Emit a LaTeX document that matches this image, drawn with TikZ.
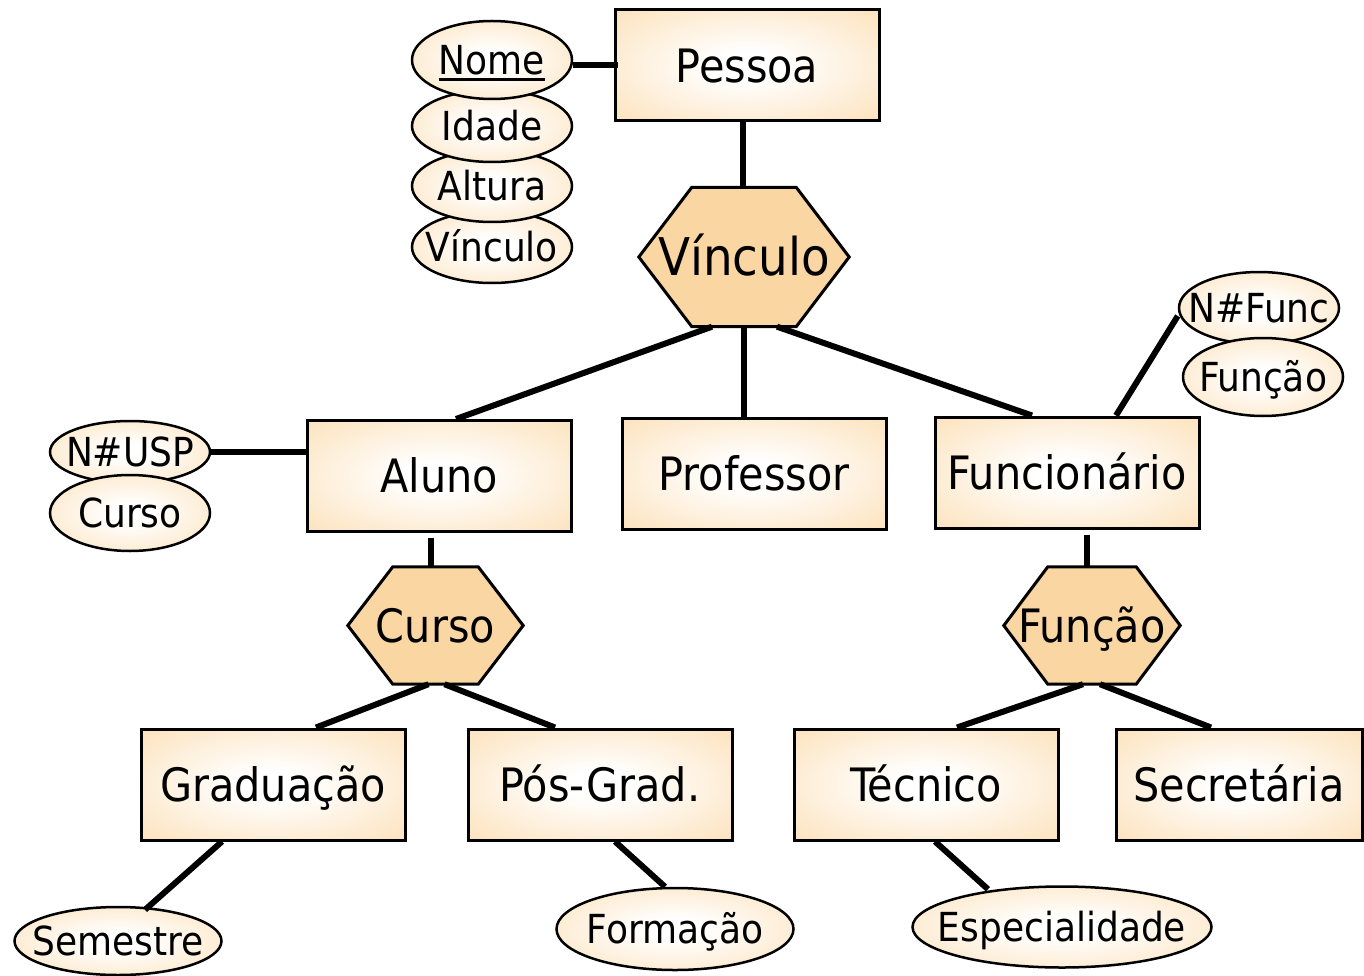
\documentclass[tikz,border=0pt]{standalone}
\usepackage{fontspec}
\usetikzlibrary{shapes.geometric}
\newfontfamily\erfont{DejaVu Sans Condensed}
\definecolor{boxc}{RGB}{252,226,188}
\definecolor{hexc}{RGB}{250,214,162}
\pgfdeclareradialshading{erglow}{\pgfpoint{0bp}{0bp}}{color(0bp)=(white); color(6bp)=(white); color(36bp)=(boxc); color(50bp)=(boxc)}
\pgfdeclarelayer{background}
\pgfsetlayers{background,main}
\newcommand\ulname[1]{\leavevmode\vtop{\hbox{#1}\kern3pt\hrule height 3pt}}
\newcommand\zw[1]{\makebox[0pt]{#1}}
\tikzset{
  ent/.style={rectangle, draw, line width=3pt, shading=erglow, minimum width=264pt, minimum height=111pt, inner sep=0pt, text height=33.5pt, text depth=0pt, font=\erfont\fontsize{46}{50}\selectfont},
  attr/.style={ellipse, draw, line width=2.5pt, shading=erglow, inner sep=0pt, text height=29pt, text depth=0pt, font=\erfont\fontsize{40}{44}\selectfont},
  hexnode/.style={rectangle, inner sep=0pt, text height=33.5pt, text depth=0pt, font=\erfont\fontsize{46}{50}\selectfont},
  hexshape/.style={draw, line width=3pt, fill=hexc, line join=miter},
  conn/.style={line width=6pt}
}
\begin{document}
\begin{tikzpicture}[x=1pt,y=-1pt]
\useasboundingbox (0,0) rectangle (1364,976);
% entities
\node[ent] (pessoa) at (747,65.5) {Pessoa};
\node[ent] (aluno) at (439,476) {Aluno};
\node[ent] (prof) at (754,474) {Professor};
\node[ent] (func) at (1067,472.5) {Funcionário};
\node[ent] (grad) at (273,784.5) {Graduação};
\node[ent] (pos) at (600,784.5) {Pós-Grad.};
\node[ent] (tec) at (926,784.5) {Técnico};
\node[ent, minimum width=246pt] (sec) at (1239,784.5) {Secretária};
% attributes of Pessoa
\node[attr, minimum width=160pt, minimum height=72pt] (avinc) at (492,247) {\zw{Vínculo}};
\node[attr, minimum width=160pt, minimum height=72pt] (altura) at (492,186) {\zw{Altura}};
\node[attr, minimum width=160pt, minimum height=72pt] (idade) at (492,126) {\zw{Idade}};
\node[attr, minimum width=160pt, minimum height=78pt] (nome) at (492,60) {\zw{\ulname{Nome}}};
% attributes of Aluno
\node[attr, minimum width=160pt, minimum height=62pt] (nusp) at (130,452) {\zw{N\#USP}};
\node[attr, minimum width=160pt, minimum height=76pt] (acurso) at (130,513) {\zw{Curso}};
% attributes of Funcionario
\node[attr, minimum width=160pt, minimum height=72pt] (nfunc) at (1259,308) {\zw{N\#Func}};
\node[attr, minimum width=160pt, minimum height=78pt] (afunc) at (1263,377) {\zw{Função}};
% other attributes
\node[attr, minimum width=207pt, minimum height=68pt] (sem) at (118,941) {\zw{Semestre}};
\node[attr, minimum width=237pt, minimum height=82pt] (form) at (675,929) {\zw{Formação}};
\node[attr, minimum width=299pt, minimum height=81pt] (esp) at (1062,927) {\zw{Especialidade}};
% hexagons
\node[hexnode, minimum width=210pt, minimum height=139pt, text height=38pt, font=\erfont\fontsize{52}{56}\selectfont] (vinc) at (744,257) {Vínculo};
\node[hexnode, minimum width=175pt, minimum height=117pt] (cursoh) at (435.5,625.5) {Curso};
\node[hexnode, minimum width=176pt, minimum height=117pt] (funch) at (1092,625.5) {Função};
\begin{pgfonlayer}{background}
\draw[hexshape] (vinc.west) -- ([xshift=53pt]vinc.north west) -- ([xshift=-53pt]vinc.north east) -- (vinc.east) -- ([xshift=-53pt]vinc.south east) -- ([xshift=53pt]vinc.south west) -- cycle;
\draw[hexshape] (cursoh.west) -- ([xshift=45pt]cursoh.north west) -- ([xshift=-45pt]cursoh.north east) -- (cursoh.east) -- ([xshift=-45pt]cursoh.south east) -- ([xshift=45pt]cursoh.south west) -- cycle;
\draw[hexshape] (funch.west) -- ([xshift=44pt]funch.north west) -- ([xshift=-44pt]funch.north east) -- (funch.east) -- ([xshift=-44pt]funch.south east) -- ([xshift=44pt]funch.south west) -- cycle;
\end{pgfonlayer}
% connectors
\coordinate (nomeE) at ([yshift=-5pt]nome.east);
\coordinate (nfuncW) at ([yshift=-8pt]nfunc.west);
\draw[conn] (nomeE) -- ([xshift=4pt]pessoa.west |- nomeE);
\draw[conn] ([xshift=-4pt]pessoa.south) -- ([xshift=-4pt]pessoa.south |- vinc.north);
\draw[conn] ([xshift=-32pt]vinc.south) -- ([xshift=17pt]aluno.north);
\draw[conn] (vinc.south) -- (vinc.south |- prof.north);
\draw[conn] ([xshift=33pt]vinc.south) -- ([xshift=-35pt]func.north);
\draw[conn] (nusp.east) -- (aluno.west |- nusp.east);
\draw[conn] (nfuncW) -- ([xshift=49pt]func.north);
\draw[conn, shorten <=5pt] ([xshift=-8pt]aluno.south) -- ([xshift=-8pt]aluno.south |- cursoh.north);
\draw[conn, shorten <=5pt] ([xshift=20pt]func.south) -- ([xshift=20pt]func.south |- funch.north);
\draw[conn] ([xshift=-7pt]cursoh.south) -- ([xshift=43pt]grad.north);
\draw[conn] ([xshift=9pt]cursoh.south) -- ([xshift=-45pt]pos.north);
\draw[conn] ([xshift=-9pt]funch.south) -- ([xshift=31pt]tec.north);
\draw[conn] ([xshift=8pt]funch.south) -- ([xshift=-28pt]sec.north);
\draw[conn] ([xshift=-51pt]grad.south) -- ([xshift=27pt,yshift=-4pt]sem.north);
\draw[conn] ([xshift=15pt]pos.south) -- ([xshift=-10pt]form.north);
\draw[conn] ([xshift=9pt]tec.south) -- ([xshift=-74pt,yshift=-4pt]esp.north);
\end{tikzpicture}
\end{document}
